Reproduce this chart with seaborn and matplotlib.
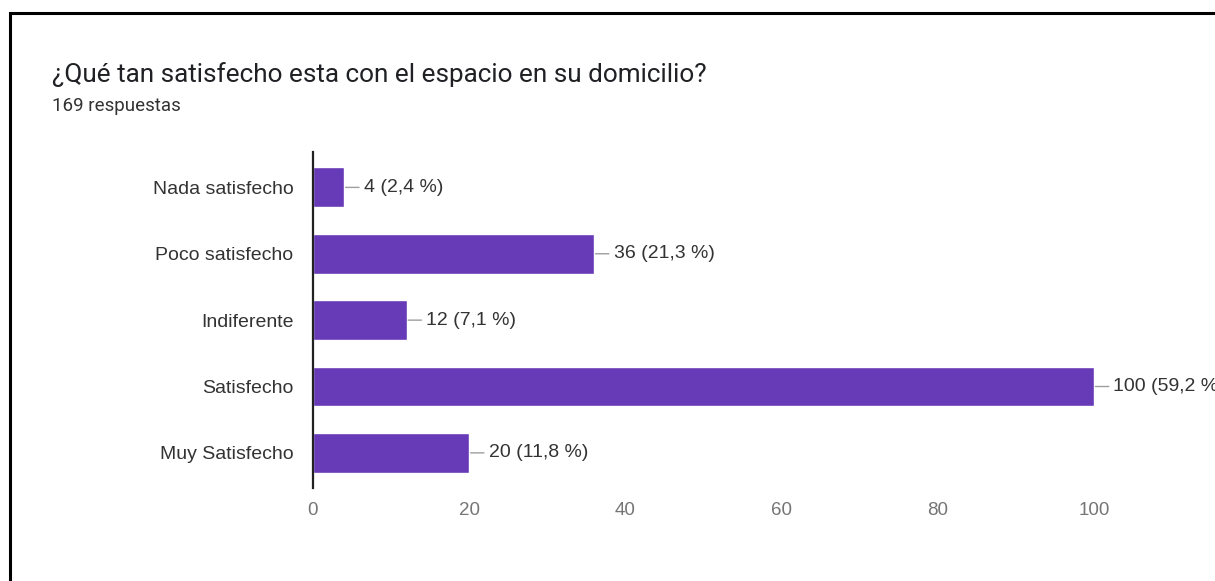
import matplotlib
matplotlib.use("Agg")
import matplotlib.pyplot as plt
from matplotlib.patches import Rectangle
import seaborn as sns
import pandas as pd

# Survey responses
categories = ["Nada satisfecho", "Poco satisfecho", "Indiferente", "Satisfecho", "Muy Satisfecho"]
counts = [4, 36, 12, 100, 20]
percents = ["2,4", "21,3", "7,1", "59,2", "11,8"]
total_responses = 169
title = "¿Qué tan satisfecho esta con el espacio en su domicilio?"
x_ticks = [0, 20, 40, 60, 80, 100]

df = pd.DataFrame({"categoria": categories, "respuestas": counts})

sns.set_theme(style="white")
plt.rcParams["font.family"] = ["Liberation Sans", "DejaVu Sans"]

fig = plt.figure(figsize=(12.15, 5.81), dpi=100)
fig.patch.set_facecolor("white")
ax = fig.add_axes([0.2576, 0.160, 0.6428, 0.578])

sns.barplot(data=df, y="categoria", x="respuestas", orient="h",
            color="#673ab7", saturation=1, width=0.6, ax=ax)

ax.set_xlim(0, 100)
ax.set_ylim(4.53, -0.53)
ax.set_xticks(x_ticks)
ax.set_xlabel("")
ax.set_ylabel("")

for s in ["top", "right", "bottom"]:
    ax.spines[s].set_visible(False)
ax.spines["left"].set_color("#222222")
ax.spines["left"].set_linewidth(1.6)

ax.tick_params(axis="x", length=0, pad=10, labelsize=13.5, labelcolor="#757575")
ax.tick_params(axis="y", length=0, pad=14, labelsize=14, labelcolor="#333333")

# Value labels with short leader lines
for i, (v, p) in enumerate(zip(counts, percents)):
    ax.annotate(f"{v} ({p} %)", xy=(v, i), xytext=(14, 0),
                textcoords="offset points", va="center", ha="left",
                fontsize=14, color="#333333", annotation_clip=False,
                arrowprops=dict(arrowstyle="-", color="#9e9e9e", lw=1,
                                shrinkA=1, shrinkB=1))

fig.text(52 / 1215, 1 - 75 / 581, title, fontsize=18.8, color="#202124",
         va="center", ha="left", family=["Roboto", "DejaVu Sans"])
fig.text(52 / 1215, 1 - 106 / 581, f"{total_responses} respuestas", fontsize=13.5,
         color="#333333", va="center", ha="left", family=["Roboto", "DejaVu Sans"])

# Frame around the card
fig.add_artist(Rectangle((10 / 1215, -0.1), 1.2, 1.1 - 13 / 581, fill=False,
                         lw=2.2, ec="black", transform=fig.transFigure))

fig.savefig("out.png", dpi=100)
